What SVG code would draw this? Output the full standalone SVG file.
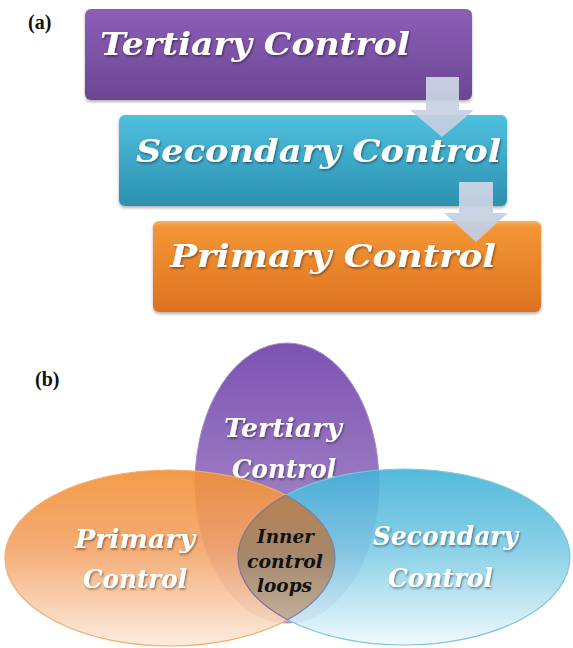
<svg xmlns="http://www.w3.org/2000/svg" width="573" height="648" viewBox="0 0 573 648">
  <defs>
    <linearGradient id="gPurpleBox" x1="0" y1="0" x2="0" y2="1">
      <stop offset="0" stop-color="#8c5eb8"/>
      <stop offset="1" stop-color="#6b4792"/>
    </linearGradient>
    <linearGradient id="gCyanBox" x1="0" y1="0" x2="0" y2="1">
      <stop offset="0" stop-color="#4fc0de"/>
      <stop offset="1" stop-color="#2c90b0"/>
    </linearGradient>
    <linearGradient id="gOrangeBox" x1="0" y1="0" x2="0" y2="1">
      <stop offset="0" stop-color="#f9b662"/>
      <stop offset="0.06" stop-color="#f39636"/>
      <stop offset="1" stop-color="#dd7220"/>
    </linearGradient>
    <linearGradient id="gArrow" x1="0" y1="0" x2="0" y2="1">
      <stop offset="0" stop-color="#cdd6e6"/>
      <stop offset="1" stop-color="#c2cde0"/>
    </linearGradient>
    <linearGradient id="gPurpleEll" x1="0" y1="0" x2="0" y2="1">
      <stop offset="0" stop-color="#7d52b2"/>
      <stop offset="1" stop-color="#b5a0d2"/>
    </linearGradient>
    <linearGradient id="gOrangeEll" x1="0" y1="0" x2="0" y2="1">
      <stop offset="0" stop-color="#f29034"/>
      <stop offset="0.45" stop-color="#f3a467"/>
      <stop offset="1" stop-color="#fdeadb"/>
    </linearGradient>
    <linearGradient id="gBlueEll" x1="0" y1="0" x2="0" y2="1">
      <stop offset="0" stop-color="#42b2d8"/>
      <stop offset="0.45" stop-color="#7ccbe4"/>
      <stop offset="1" stop-color="#eef8fc"/>
    </linearGradient>
    <linearGradient id="gLens" x1="0" y1="0" x2="0" y2="1">
      <stop offset="0" stop-color="#bf7e45"/>
      <stop offset="0.5" stop-color="#a5886c"/>
      <stop offset="1" stop-color="#cdbfae"/>
    </linearGradient>
    <clipPath id="clipOrange">
      <ellipse cx="170" cy="558" rx="165" ry="88"/>
    </clipPath>
    <clipPath id="clipBlue">
      <ellipse cx="404" cy="557" rx="166" ry="88"/>
    </clipPath>
    <filter id="txtShadow" x="-10%" y="-20%" width="120%" height="150%">
      <feDropShadow dx="1" dy="1.5" stdDeviation="1" flood-color="#000" flood-opacity="0.45"/>
    </filter>
    <filter id="boxShadow" x="-5%" y="-10%" width="110%" height="130%">
      <feDropShadow dx="0" dy="2" stdDeviation="1.5" flood-color="#000" flood-opacity="0.3"/>
    </filter>
  </defs>
  <style>
    .lbl { font-family: "DejaVu Serif", "Liberation Serif", serif; font-weight: bold; font-style: italic; fill: #ffffff; }
    .big { font-size: 32px; }
    .mid { font-size: 26px; }
    .inner { font-family: "DejaVu Serif", "Liberation Serif", serif; font-weight: bold; font-style: italic; font-size: 18px; fill: #111111; }
    .tag { font-family: "Liberation Serif", "Times New Roman", serif; font-weight: bold; font-size: 20px; fill: #111111; }
    .arrow { fill: url(#gArrow); opacity: 0.93; }
  </style>
  <rect width="573" height="648" fill="#ffffff"/>

  <!-- (a) hierarchy of control levels -->
  <text class="tag" x="28" y="29">(a)</text>

  <g id="tertiary-box">
    <rect x="85" y="9" width="387" height="91" rx="6" fill="url(#gPurpleBox)" filter="url(#boxShadow)"/>
    <text class="lbl big" x="100" y="55" textLength="310" lengthAdjust="spacingAndGlyphs" filter="url(#txtShadow)">Tertiary Control</text>
  </g>
  <g id="secondary-box">
    <rect x="119" y="115" width="388" height="91" rx="6" fill="url(#gCyanBox)" filter="url(#boxShadow)"/>
    <text class="lbl big" x="136" y="162" textLength="365" lengthAdjust="spacingAndGlyphs" filter="url(#txtShadow)">Secondary Control</text>
  </g>
  <g id="primary-box">
    <rect x="153" y="221" width="388" height="91" rx="6" fill="url(#gOrangeBox)" filter="url(#boxShadow)"/>
    <text class="lbl big" x="170" y="267" textLength="326" lengthAdjust="spacingAndGlyphs" filter="url(#txtShadow)">Primary Control</text>
  </g>

  <g id="connectors">
    <polygon class="arrow" points="426,77 459,77 459,110 474,110 442,137 410,110 426,110"/>
    <polygon class="arrow" points="459,182 493,182 493,213 508,213 476,242 444,213 459,213"/>
  </g>

  <!-- (b) overlapping control domains -->
  <text class="tag" x="35" y="386">(b)</text>

  <g id="tertiary-ellipse">
    <ellipse cx="287" cy="483" rx="92" ry="140" fill="url(#gPurpleEll)" stroke="#a48cc6" stroke-width="1"/>
    <text class="lbl mid" x="224" y="437" textLength="118" lengthAdjust="spacingAndGlyphs" filter="url(#txtShadow)">Tertiary</text>
    <text class="lbl mid" x="232" y="478" textLength="104" lengthAdjust="spacingAndGlyphs" filter="url(#txtShadow)">Control</text>
  </g>

  <g id="primary-ellipse">
    <ellipse cx="170" cy="558" rx="165" ry="88" fill="url(#gOrangeEll)" fill-opacity="0.9" stroke="#f2ad70" stroke-width="1.2"/>
    <text class="lbl mid" x="75" y="548" textLength="120" lengthAdjust="spacingAndGlyphs" filter="url(#txtShadow)">Primary</text>
    <text class="lbl mid" x="83" y="588" textLength="104" lengthAdjust="spacingAndGlyphs" filter="url(#txtShadow)">Control</text>
  </g>

  <g id="secondary-ellipse">
    <ellipse cx="404" cy="557" rx="166" ry="88" fill="url(#gBlueEll)" fill-opacity="0.9" stroke="#7cc6df" stroke-width="1.2"/>
    <text class="lbl mid" x="373" y="545" textLength="145" lengthAdjust="spacingAndGlyphs" filter="url(#txtShadow)">Secondary</text>
    <text class="lbl mid" x="388" y="587" textLength="105" lengthAdjust="spacingAndGlyphs" filter="url(#txtShadow)">Control</text>
  </g>

  <g id="inner-loops">
    <ellipse cx="404" cy="557" rx="166" ry="88" clip-path="url(#clipOrange)" fill="url(#gLens)"/>
    <ellipse cx="404" cy="557" rx="166" ry="88" clip-path="url(#clipOrange)" fill="none" stroke="#8a6f8a" stroke-width="1.2"/>
    <ellipse cx="170" cy="558" rx="165" ry="88" clip-path="url(#clipBlue)" fill="none" stroke="#6f86a8" stroke-width="1.2"/>
    <text class="inner" x="257" y="543" textLength="57" lengthAdjust="spacingAndGlyphs">Inner</text>
    <text class="inner" x="247" y="568" textLength="76" lengthAdjust="spacingAndGlyphs">control</text>
    <text class="inner" x="257" y="592" textLength="55" lengthAdjust="spacingAndGlyphs">loops</text>
  </g>
</svg>
